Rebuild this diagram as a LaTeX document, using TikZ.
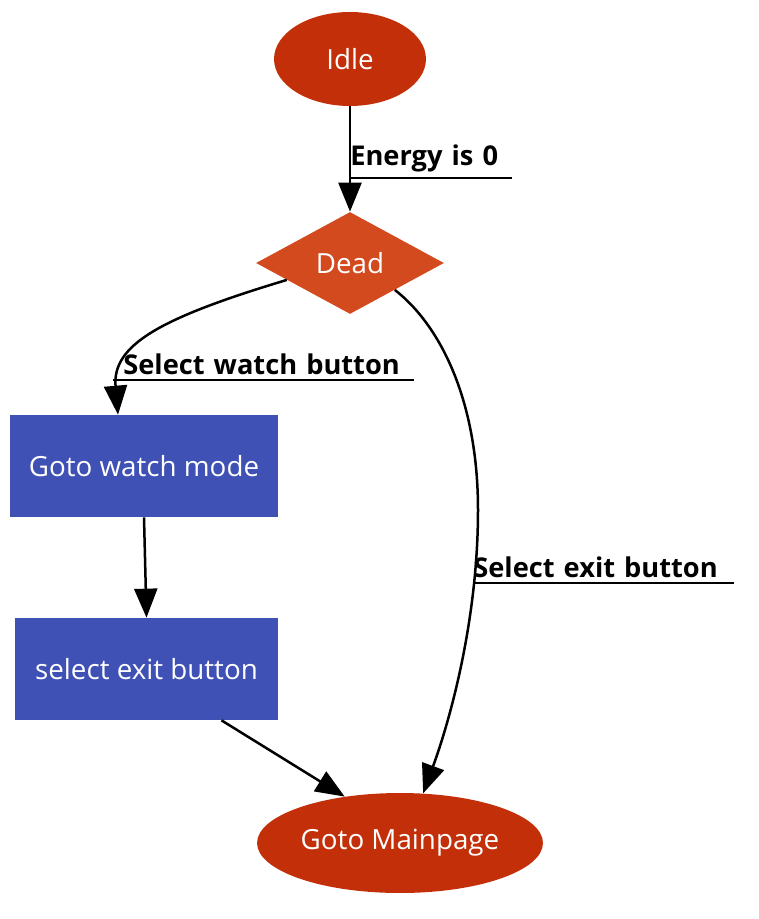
\documentclass[tikz,border=0pt]{standalone}
\usepackage{fontspec}
\setmainfont{Open Sans}
\usetikzlibrary{shapes.geometric,arrows.meta}
\definecolor{termred}{RGB}{195,47,9}
\definecolor{deadred}{RGB}{210,74,30}
\definecolor{stepblue}{RGB}{63,81,181}
\begin{document}
\begin{tikzpicture}[x=0.02cm,y=-0.02cm,
    conn/.style={-{Triangle[length=0.58cm,width=0.46cm]},line width=0.05cm},
    uline/.style={line width=0.04cm},
    term/.style={ellipse,fill=termred,text=white,inner sep=0pt,font=\fontsize{15.8}{18}\selectfont},
    stepbox/.style={rectangle,fill=stepblue,text=white,inner sep=0pt,minimum height=2.04cm,font=\fontsize{15.8}{18}\selectfont},
    lbl/.style={anchor=south west,inner xsep=0pt,inner ysep=3pt,align=left,font=\fontsize{15.5}{18}\selectfont\bfseries}]
    \useasboundingbox (0,0) rectangle (758,919);
    % states
    \node[term,minimum width=3.04cm,minimum height=1.88cm] (idle) at (350,59) {Idle};
    \node[diamond,fill=deadred,text=white,inner sep=0pt,minimum width=3.76cm,minimum height=2.04cm,font=\fontsize{15.8}{18}\selectfont] (dead) at (350,263) {Dead};
    \node[stepbox,minimum width=5.36cm] (watch) at (144,466) {Goto watch mode};
    \node[stepbox,minimum width=5.26cm] (exitsel) at (146.5,669) {select exit button};
    \node[term,minimum width=5.72cm,minimum height=2cm] (mainpage) at (400,843) {Goto Mainpage};
    % transitions
    \draw[conn] (idle.south) -- (dead.north);
    \draw[conn] (dead.195) .. controls (160,318) and (112,345) .. ([xshift=-0.52cm]watch.north);
    \draw[conn] (dead.-31) .. controls (440,325) and (478,400) .. (478,510)
                .. controls (478,620) and (450,720) .. (mainpage.65);
    \draw[conn] (watch.south) -- (exitsel.north);
    \draw[conn] ([xshift=1.5cm]exitsel.south) -- (mainpage.140);
    % labels
    \node[lbl,text width=3.22cm] (l1) at (350,178) {Energy is 0};
    \draw[uline] (l1.south west) -- (l1.south east);
    \node[lbl,text width=6cm] (l2) at (113,380) {\hspace{0.2cm}Select watch button};
    \draw[uline] (l2.south west) -- (l2.south east);
    \node[lbl,text width=5.2cm] (l3) at (473,583) {Select exit button};
    \draw[uline] (l3.south west) -- (l3.south east);
\end{tikzpicture}
\end{document}
